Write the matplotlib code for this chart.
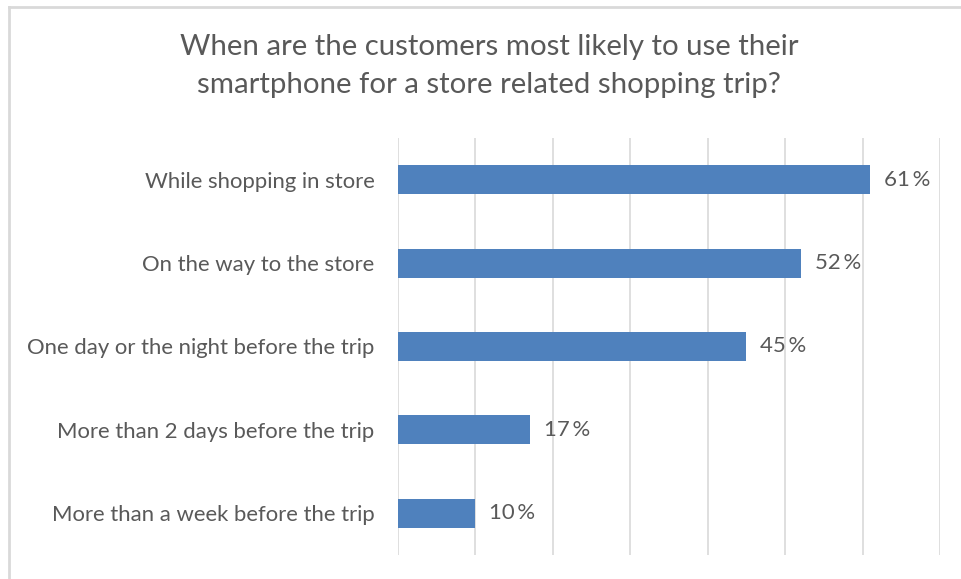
import matplotlib.pyplot as plt
from matplotlib.lines import Line2D

plt.rcParams['font.family'] = ['Lato', 'DejaVu Sans']

# 数据
categories = ['While shopping in store', 'On the way to the store',
              'One day or the night before the trip',
              'More than 2 days before the trip',
              'More than a week before the trip']
values = [61, 52, 45, 17, 10]
title = 'When are the customers most likely to use their\nsmartphone for a store related shopping trip?'

W, H = 961, 579
fig = plt.figure(figsize=(W / 100, H / 100), dpi=100)
fig.patch.set_facecolor('white')

# 外框（只露出上边和左边）
fig.add_artist(Line2D([9 / W, 9 / W], [0, 1 - 7 / H], color='#d9d9d9', lw=2))
fig.add_artist(Line2D([9 / W, 1], [1 - 7 / H, 1 - 7 / H], color='#d9d9d9', lw=2))

ax = fig.add_axes([398 / W, 1 - 555 / H, (940 - 398) / W, (555 - 138) / H])
y = list(range(len(categories)))
ax.barh(y, values, height=0.35, color='#4f81bd', zorder=3)
ax.set_xlim(0, 70)
ax.set_ylim(len(categories) - 0.5, -0.5)
ax.set_xticks(range(0, 71, 10))
ax.grid(axis='x', color='#d9d9d9', lw=1.2, zorder=0)
ax.tick_params(axis='x', length=0, labelbottom=False)
ax.tick_params(axis='y', length=0, pad=17)
ax.set_yticks(y)
ax.set_yticklabels(categories, fontsize=15.9, color='#595959')
for s in ax.spines.values():
    s.set_visible(False)

for yi, v in zip(y, values):
    ax.text(v + 1.8, yi, f'{v}\u2009%', va='center', ha='left',
            fontsize=15.9, color='#595959')

fig.text(489 / W, 1 - 66 / H, title, ha='center', va='center',
         fontsize=21.2, color='#595959', linespacing=1.6)

fig.savefig('out.png', dpi=100)
